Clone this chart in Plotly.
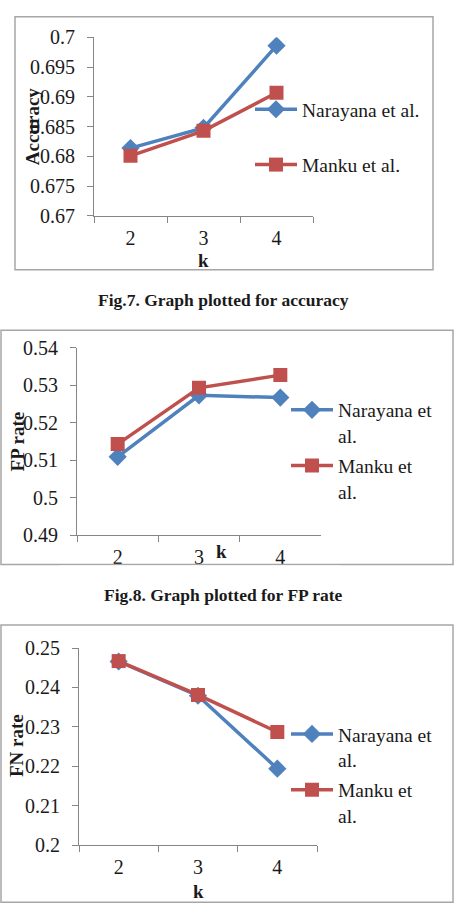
import plotly.graph_objects as go

# ---------------- data ----------------
k_values = ["2", "3", "4"]
series_names = ["Narayana et al.", "Manku et al."]

acc_narayana = [0.6814, 0.6848, 0.6986]
acc_manku = [0.6801, 0.6843, 0.6907]

fp_narayana = [0.5109, 0.5273, 0.5267]
fp_manku = [0.5143, 0.5293, 0.5327]

fn_narayana = [0.2466, 0.2379, 0.2194]
fn_manku = [0.2467, 0.2381, 0.2287]

acc_ticks = [0.67, 0.675, 0.68, 0.685, 0.69, 0.695, 0.7]
acc_ticktext = ["0.67", "0.675", "0.68", "0.685", "0.69", "0.695", "0.7"]
fp_ticks = [0.49, 0.50, 0.51, 0.52, 0.53, 0.54]
fp_ticktext = ["0.49", "0.5", "0.51", "0.52", "0.53", "0.54"]
fn_ticks = [0.20, 0.21, 0.22, 0.23, 0.24, 0.25]
fn_ticktext = ["0.2", "0.21", "0.22", "0.23", "0.24", "0.25"]

captions = ["Fig.7. Graph plotted for accuracy", "Fig.8. Graph plotted for FP rate"]
y_titles = ["Accuracy", "FP rate", "FN rate"]
x_title = "k"

# ---------------- style ----------------
W, H = 459, 920
BLUE = "#4F81BD"
RED = "#C0504D"
AXIS = "#868686"
FRAME = "#A6A6A6"
TXT = "#1a1a1a"
FONT = "'Liberation Serif', 'Times New Roman', serif"
TICK_SIZE = 20


def X(px):
    return px / W


def Y(py):
    return 1 - py / H


fig = go.Figure()

panels = [
    dict(ax="", n=acc_narayana, m=acc_manku, ticks=acc_ticks, tt=acc_ticktext,
         xd=(94, 313), yd=(27, 210), legend="legend", wrap=False),
    dict(ax="2", n=fp_narayana, m=fp_manku, ticks=fp_ticks, tt=fp_ticktext,
         xd=(77, 321), yd=(345, 537), legend="legend2", wrap=True),
    dict(ax="3", n=fn_narayana, m=fn_manku, ticks=fn_ticks, tt=fn_ticktext,
         xd=(79, 317), yd=(652.7, 854.5), legend="legend3", wrap=True),
]

axes_layout = {}
for p in panels:
    xa = "x" + p["ax"]
    ya = "y" + p["ax"]
    for name, vals, color, symbol, size, grp in [
        (series_names[0], p["n"], BLUE, "diamond", 14, "a"),
        (series_names[1], p["m"], RED, "square", 14, "b"),
    ]:
        label = name.replace(" al.", "<br>al.") if p["wrap"] else name
        fig.add_trace(go.Scatter(
            x=k_values, y=vals, name=label, mode="lines+markers",
            line=dict(color=color, width=3.5),
            marker=dict(symbol=symbol, size=size, color=color),
            xaxis=xa, yaxis=ya, legend=p["legend"], legendgroup=grp + p["ax"],
            hoverinfo="skip",
        ))
    lo, hi = p["ticks"][0], p["ticks"][-1]
    axes_layout["xaxis" + p["ax"]] = dict(
        type="category", domain=[X(p["xd"][0]), X(p["xd"][1])],
        range=[-0.5, 2.5], anchor=ya, tickson="boundaries",
        ticks="outside", ticklen=6, tickcolor=AXIS, showline=True,
        linecolor=AXIS, linewidth=1, showgrid=False, zeroline=False,
        tickfont=dict(family=FONT, size=TICK_SIZE, color=TXT),
        ticklabelstandoff=4, fixedrange=True,
    )
    axes_layout["yaxis" + p["ax"]] = dict(
        domain=[Y(p["yd"][1]), Y(p["yd"][0])], range=[lo, hi], anchor=xa,
        tickmode="array", tickvals=p["ticks"], ticktext=p["tt"],
        ticks="outside", ticklen=6, tickcolor=AXIS, showline=True,
        linecolor=AXIS, linewidth=1, showgrid=False, zeroline=False,
        tickfont=dict(family=FONT, size=TICK_SIZE, color=TXT),
        ticklabelstandoff=8, fixedrange=True,
    )
fig.update_layout(**axes_layout)

leg_common = dict(xanchor="left", yanchor="top", bgcolor="rgba(0,0,0,0)",
                  font=dict(family=FONT, size=19.5, color=TXT),
                  itemwidth=42, itemclick=False, itemdoubleclick=False)
fig.update_layout(
    legend=dict(x=X(250), y=Y(81), tracegroupgap=27, **leg_common),
    legend2=dict(x=X(286), y=Y(389), tracegroupgap=2, valign="top", **leg_common),
    legend3=dict(x=X(286), y=Y(721), tracegroupgap=2, valign="top", **leg_common),
)

# frames
shapes = []
for x0, y0, x1, y1 in [(15, 6, 433, 265), (1, 327, 453, 567), (1, 629, 453, 913)]:
    shapes.append(dict(type="rect", xref="paper", yref="paper",
                       x0=X(x0), x1=X(x1), y0=Y(y1), y1=Y(y0),
                       line=dict(color=FRAME, width=1.5), fillcolor="rgba(0,0,0,0)",
                       layer="above"))
# clip below chart 2 frame (labels cut off in the original)
shapes.append(dict(type="rect", xref="paper", yref="paper",
                   x0=X(60), x1=X(340), y0=Y(580), y1=Y(568),
                   line=dict(width=0), fillcolor="white", layer="above"))
fig.update_layout(shapes=shapes)

ann = []
for text, x, y in [(y_titles[0], 32, 118), (y_titles[1], 17, 441), (y_titles[2], 17, 753)]:
    ann.append(dict(text="<b>" + text + "</b>", x=X(x), y=Y(y), xref="paper", yref="paper",
                    xanchor="center", yanchor="middle",
                    showarrow=False, textangle=-90,
                    font=dict(family=FONT, size=19, color=TXT)))
for x, y in [(203, 256), (221, 554), (198, 902)]:
    ann.append(dict(text="<b>" + x_title + "</b>", x=X(x), y=Y(y), xref="paper", yref="paper",
                    xanchor="center", yanchor="middle",
                    showarrow=False, font=dict(family=FONT, size=19, color=TXT)))
for text, y in [(captions[0], 296), (captions[1], 598)]:
    ann.append(dict(text="<b>" + text + "</b>", x=X(223), y=Y(y), xref="paper", yref="paper",
                    xanchor="center", yanchor="middle",
                    showarrow=False, font=dict(family=FONT, size=17.5, color=TXT)))
fig.update_layout(annotations=ann)

fig.update_layout(
    width=W, height=H, margin=dict(l=0, r=0, t=0, b=0),
    paper_bgcolor="white", plot_bgcolor="white", showlegend=True,
    font=dict(family=FONT, size=TICK_SIZE, color=TXT),
)

fig.write_html("out.html", config={"displayModeBar": False})
